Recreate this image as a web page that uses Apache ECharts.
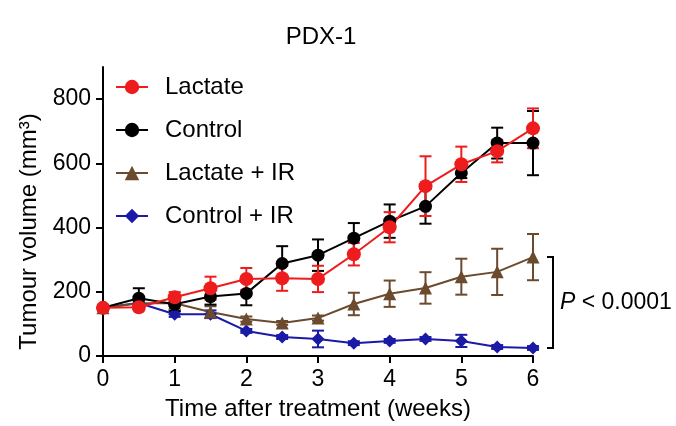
<!DOCTYPE html>
<html>
<head>
<meta charset="utf-8">
<script src="https://cdn.jsdelivr.net/npm/echarts@6/dist/echarts.min.js"></script>
<style>
  html, body { margin: 0; padding: 0; background: #fff; }
  #chart { width: 676px; height: 426px; }
</style>
</head>
<body>
<div id="chart"></div>
<script>
const weeks = [0, 0.5, 1, 1.5, 2, 2.5, 3, 3.5, 4, 4.5, 5, 5.5, 6];

const lactate = [150, 152, 183, 211, 240, 242, 240, 317, 401, 529, 597, 638, 709];
const lactateErr = [8, 10, 16, 36, 34, 39, 41, 35, 47, 93, 55, 35, 62];

const control = [150, 180, 161, 185, 195, 288, 314, 367, 420, 466, 570, 663, 663];
const controlErr = [8, 31, 21, 25, 37, 54, 49, 47, 52, 54, 16, 48, 100];

const lactateIR = [150, 164, 164, 137, 115, 103, 118, 162, 194, 212, 247, 262, 308];
const lactateIRErr = [5, 8, 8, 18, 8, 6, 8, 35, 41, 49, 56, 72, 72];

const controlIR = [150, 165, 130, 130, 78, 59, 53, 40, 47, 53, 47, 28, 25];
const controlIRErr = [5, 8, 8, 12, 6, 6, 26, 6, 6, 6, 19, 6, 6];

const yTicks = [0, 200, 400, 600, 800];
const xTicks = [0, 1, 2, 3, 4, 5, 6];

const FONT = "'Liberation Sans', Arial, Helvetica, sans-serif";

const groups = [
  { name: "Lactate", values: lactate, err: lactateErr, color: "#ee1c1c", symbol: "circle", size: 14 },
  { name: "Control", values: control, err: controlErr, color: "#000000", symbol: "circle", size: 13 },
  { name: "Lactate + IR", values: lactateIR, err: lactateIRErr, color: "#6b4a2e", symbol: "triangle", size: 13 },
  { name: "Control + IR", values: controlIR, err: controlIRErr, color: "#1a1aa6", symbol: "diamond", size: 13 },
];

function errorBarSeries(g) {
  return {
    type: "custom",
    name: g.name + " err",
    z: 2,
    data: weeks.map((w, i) => [w, g.values[i], g.err[i]]),
    renderItem: function (params, api) {
      const x = api.value(0), y = api.value(1), e = api.value(2);
      const top = api.coord([x, y + e]);
      const bot = api.coord([x, y - e]);
      const hw = 6;
      const style = { stroke: g.color, lineWidth: 2 };
      return {
        type: "group",
        children: [
          { type: "line", shape: { x1: top[0], y1: top[1], x2: bot[0], y2: bot[1] }, style: style },
          { type: "line", shape: { x1: top[0] - hw, y1: top[1], x2: top[0] + hw, y2: top[1] }, style: style },
          { type: "line", shape: { x1: bot[0] - hw, y1: bot[1], x2: bot[0] + hw, y2: bot[1] }, style: style },
        ],
      };
    },
  };
}

function lineSeries(g) {
  return {
    type: "line",
    name: g.name,
    z: 3,
    data: weeks.map((w, i) => [w, g.values[i]]),
    symbol: g.symbol,
    symbolSize: g.size,
    showAllSymbol: true,
    lineStyle: { color: g.color, width: 2 },
    itemStyle: { color: g.color },
  };
}

const last = weeks.length - 1;
const bracketSeries = {
  type: "custom",
  name: "bracket",
  clip: false,
  silent: true,
  data: [[weeks[last], lactateIR[last], controlIR[last]]],
  renderItem: function (params, api) {
    const p1 = api.coord([api.value(0), api.value(1)]);
    const p2 = api.coord([api.value(0), api.value(2)]);
    const x = p1[0] + 20;
    return {
      type: "group",
      children: [
        {
          type: "polyline",
          shape: { points: [[x - 6, p1[1]], [x, p1[1]], [x, p2[1]], [x - 6, p2[1]]] },
          style: { stroke: "#000", lineWidth: 2, fill: null },
        },
        {
          type: "text",
          x: x + 7,
          y: (p1[1] + p2[1]) / 2,
          style: {
            text: "{i|P} < 0.0001",
            fontFamily: FONT,
            fontSize: 23,
            fill: "#000",
            verticalAlign: "middle",
            align: "left",
            rich: { i: { fontStyle: "italic", fontFamily: FONT, fontSize: 23 } },
          },
        },
      ],
    };
  },
};

const chart = echarts.init(document.getElementById("chart"));
chart.setOption({
  animation: false,
  backgroundColor: "#fff",
  title: {
    text: "PDX-1",
    left: 316,
    top: 20,
    textAlign: "center",
    textStyle: { fontFamily: FONT, fontSize: 24, fontWeight: "normal", color: "#000" },
  },
  legend: {
    orient: "vertical",
    left: 115,
    top: 74,
    padding: 0,
    itemWidth: 32,
    itemHeight: 18,
    itemGap: 17,
    data: groups.map((g) => g.name),
    textStyle: { fontFamily: FONT, fontSize: 24, color: "#000", lineHeight: 26, padding: [0, 0, 0, 12] },
  },
  grid: { left: 103, right: 143, top: 67, bottom: 70 },
  xAxis: {
    type: "value",
    min: 0,
    max: 6,
    interval: 1,
    name: "Time after treatment (weeks)",
    nameLocation: "middle",
    nameGap: 41,
    nameTextStyle: { fontFamily: FONT, fontSize: 24, color: "#000" },
    splitLine: { show: false },
    axisLine: { lineStyle: { color: "#000", width: 2 } },
    axisTick: { length: 7, lineStyle: { color: "#000", width: 2 } },
    axisLabel: { fontFamily: FONT, fontSize: 23, color: "#000", margin: 12, customValues: xTicks },
  },
  yAxis: {
    type: "value",
    min: 0,
    max: 900,
    name: "Tumour volume (mm³)",
    nameLocation: "middle",
    nameGap: 58,
    nameTextStyle: { fontFamily: FONT, fontSize: 24, color: "#000", padding: [0, 40, 0, 0] },
    splitLine: { show: false },
    axisLine: { show: true, lineStyle: { color: "#000", width: 2 } },
    axisTick: { show: true, length: 7, lineStyle: { color: "#000", width: 2 }, customValues: yTicks },
    axisLabel: { fontFamily: FONT, fontSize: 23, color: "#000", margin: 12, customValues: yTicks },
  },
  series: [
    errorBarSeries(groups[3]),
    errorBarSeries(groups[2]),
    errorBarSeries(groups[1]),
    errorBarSeries(groups[0]),
    lineSeries(groups[3]),
    lineSeries(groups[2]),
    lineSeries(groups[1]),
    lineSeries(groups[0]),
    bracketSeries,
  ],
});
</script>
</body>
</html>
